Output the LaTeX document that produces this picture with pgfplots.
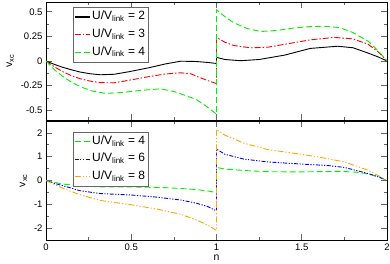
\documentclass[border=0pt]{standalone}
\usepackage{fontspec}
\setmainfont{Liberation Sans}
\usepackage{pgfplots}
\pgfplotsset{compat=1.18}
\definecolor{xgreen}{RGB}{0,240,0}
\definecolor{xorange}{RGB}{255,165,0}
\definecolor{xred}{RGB}{252,0,0}
\definecolor{xblue}{RGB}{0,0,252}
\definecolor{xblack}{RGB}{0,0,0}
\begin{document}
\begin{tikzpicture}
\pgfplotsset{
  every axis/.append style={
    scale only axis, width=341pt,
    xmin=0, xmax=2, xtick={0,0.5,1,1.5,2}, minor x tick num=1,
    tick align=inside, major tick length=6pt, minor tick length=3pt,
    tick style={black!60, line width=0.7pt},
    axis line style={line width=0.8pt},
    ticklabel style={font=\fontsize{9.5}{10}\selectfont},
    /pgf/number format/assume math mode=true,
    label style={font=\fontsize{10.5}{11}\selectfont},
    legend cell align=left,
    legend image code/.code={\draw[#1, line width=1.1pt] (0pt,0pt) -- (15pt,0pt);},
  },
}
\begin{axis}[at={(46pt,144pt)}, anchor=south west, height=118pt,
  ymin=-0.6, ymax=0.6, ytick={-0.5,-0.25,0,0.25,0.5}, minor y tick num=1,
  xticklabels={}, ylabel={v\textsubscript{xc}},
  legend style={at={(0.079,0.958)}, anchor=north west, font=\fontsize{12}{14}\selectfont, draw=black!60, inner xsep=1pt, inner ysep=1pt, nodes={inner sep=2pt, text height=0.95em, text depth=0.42em}}]
\addplot[color=xblack, line width=0.9pt] coordinates {(0,0)(0.05,-0.035)(0.1,-0.065)(0.15,-0.09)(0.2,-0.112)(0.26,-0.13)(0.32,-0.14)(0.4,-0.135)(0.49,-0.108)(0.6,-0.07)(0.7,-0.03)(0.79,-0.002)(0.88,-0.005)(0.95,-0.015)(1,-0.025)(1,0.037)(1.05,0.015)(1.14,0.003)(1.25,0.015)(1.4,0.06)(1.55,0.128)(1.71,0.15)(1.8,0.135)(1.89,0.08)(1.95,0.04)(2,0)};
\addlegendentry{U/V\textsubscript{link} = 2}
\addplot[color=xred, line width=0.9pt, dash pattern=on 6pt off 2pt on 1.5pt off 2pt] coordinates {(0,0)(0.05,-0.06)(0.1,-0.11)(0.15,-0.15)(0.2,-0.18)(0.26,-0.205)(0.32,-0.22)(0.4,-0.222)(0.49,-0.195)(0.6,-0.16)(0.7,-0.132)(0.79,-0.12)(0.85,-0.13)(0.89,-0.16)(0.95,-0.2)(1,-0.23)(1,0.24)(1.05,0.19)(1.1,0.158)(1.2,0.134)(1.3,0.14)(1.4,0.17)(1.55,0.215)(1.69,0.24)(1.8,0.225)(1.89,0.17)(1.95,0.09)(2,0)};
\addlegendentry{U/V\textsubscript{link} = 3}
\addplot[color=xgreen, line width=0.9pt, dash pattern=on 6pt off 3pt] coordinates {(0,0)(0.05,-0.09)(0.1,-0.16)(0.15,-0.215)(0.2,-0.26)(0.27,-0.305)(0.35,-0.33)(0.45,-0.32)(0.55,-0.3)(0.67,-0.283)(0.75,-0.31)(0.8,-0.34)(0.88,-0.39)(0.94,-0.46)(1,-0.54)(1,0.52)(1.05,0.45)(1.1,0.39)(1.18,0.33)(1.26,0.30)(1.35,0.31)(1.45,0.335)(1.55,0.35)(1.63,0.354)(1.72,0.34)(1.8,0.29)(1.89,0.2)(1.95,0.1)(2,0)};
\addlegendentry{U/V\textsubscript{link} = 4}
\end{axis}
\begin{axis}[at={(46pt,24pt)}, anchor=south west, height=119pt,
  ymin=-2.5, ymax=2.5, ytick={-2,-1,0,1,2}, minor y tick num=1,
  ylabel={v\textsubscript{xc}}, xlabel={n},
  xlabel style={yshift=2pt},
  legend style={at={(0.079,0.908)}, anchor=north west, font=\fontsize{12}{14}\selectfont, draw=black!60, inner xsep=1pt, inner ysep=1pt, nodes={inner sep=2pt, text height=0.95em, text depth=0.38em}}]
\addplot[color=xgreen, line width=0.9pt, dash pattern=on 6pt off 3pt] coordinates {(0,0)(0.05,-0.08)(0.1,-0.15)(0.2,-0.22)(0.32,-0.27)(0.5,-0.27)(0.7,-0.3)(0.8,-0.34)(0.88,-0.38)(0.95,-0.44)(1,-0.51)(1,0.55)(1.05,0.48)(1.16,0.42)(1.3,0.37)(1.5,0.36)(1.6,0.375)(1.73,0.385)(1.82,0.35)(1.89,0.28)(1.95,0.15)(2,0)};
\addlegendentry{U/V\textsubscript{link} = 4}
\addplot[color=xblue, line width=0.9pt, dash pattern=on 4pt off 1.5pt on 1.2pt off 1.5pt on 1.2pt off 1.5pt] coordinates {(0,0)(0.05,-0.12)(0.1,-0.22)(0.2,-0.43)(0.32,-0.55)(0.5,-0.61)(0.65,-0.7)(0.79,-0.82)(0.88,-0.95)(0.95,-1.1)(1,-1.28)(1,1.32)(1.05,1.1)(1.16,0.9)(1.3,0.78)(1.5,0.69)(1.65,0.63)(1.75,0.55)(1.89,0.29)(1.95,0.15)(2,0)};
\addlegendentry{U/V\textsubscript{link} = 6}
\addplot[color=xorange, line width=0.9pt, dash pattern=on 6pt off 2pt on 1.2pt off 2pt on 1.2pt off 2pt] coordinates {(0,0)(0.05,-0.17)(0.1,-0.33)(0.2,-0.6)(0.32,-0.84)(0.5,-1.02)(0.65,-1.2)(0.79,-1.42)(0.88,-1.65)(0.95,-1.88)(1,-2.1)(1,2.15)(1.05,1.9)(1.16,1.57)(1.3,1.3)(1.5,1.1)(1.65,0.92)(1.75,0.78)(1.89,0.43)(1.95,0.2)(2,0)};
\addlegendentry{U/V\textsubscript{link} = 8}
\end{axis}
\pgfresetboundingbox
\path[use as bounding box] (0,0) rectangle (390pt,264pt);
\end{tikzpicture}
\end{document}
